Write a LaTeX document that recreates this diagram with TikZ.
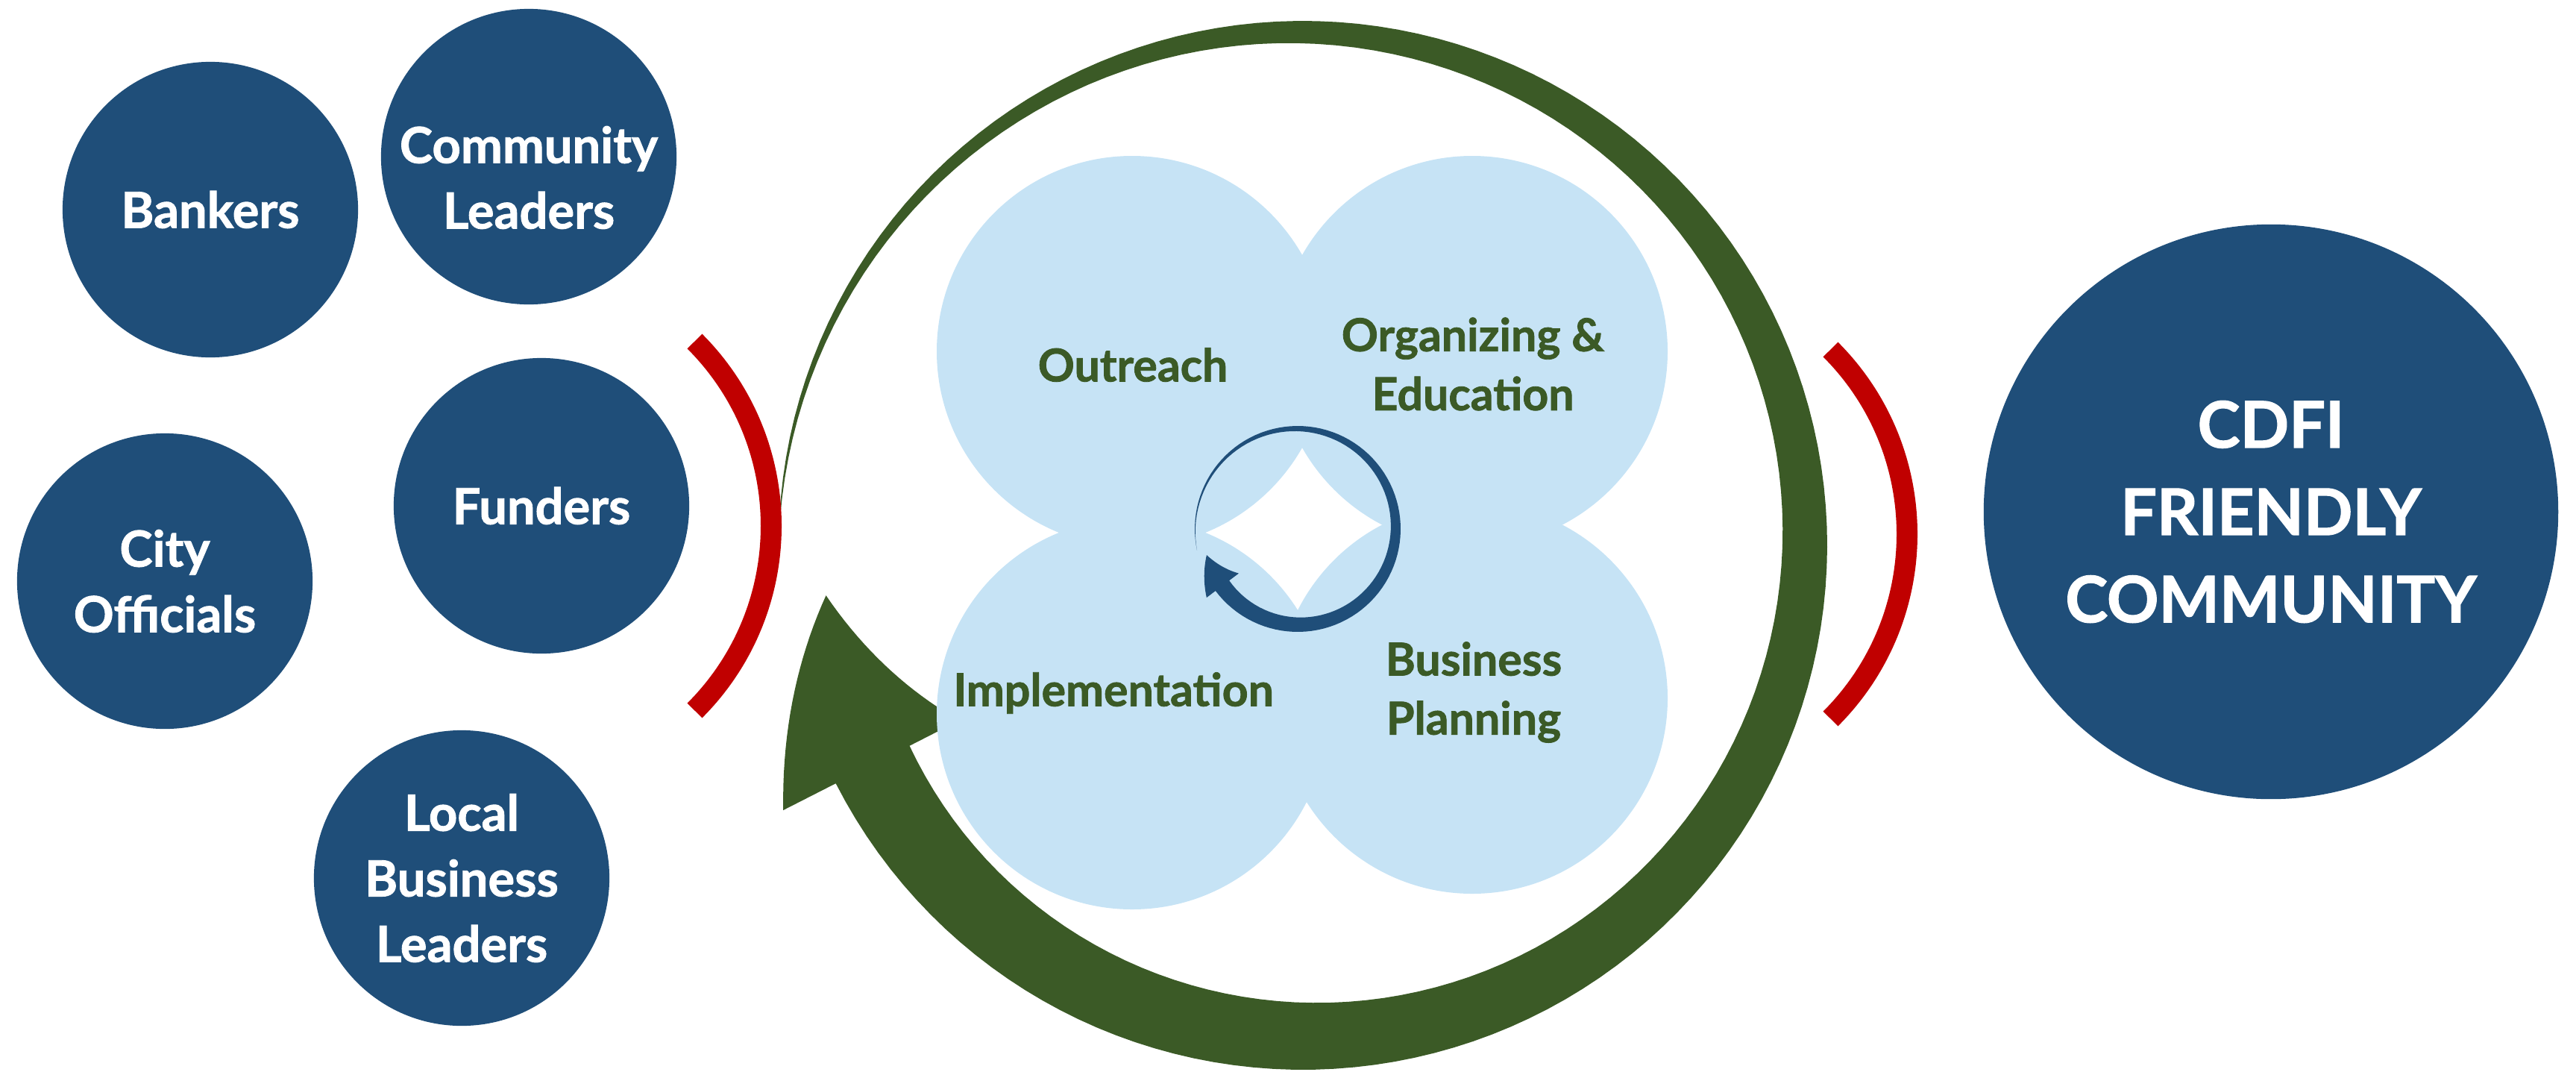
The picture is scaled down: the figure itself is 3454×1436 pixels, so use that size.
\documentclass[tikz,border=0pt]{standalone}
\usepackage{fontspec}
\setmainfont{Lato}[BoldFeatures={FakeBold=1.3}]
\definecolor{navy}{HTML}{1F4E79}
\definecolor{leaf}{HTML}{3B5A26}
\definecolor{sky}{HTML}{C6E3F5}
\definecolor{brick}{HTML}{C00000}

\begin{document}
\begin{tikzpicture}[x=0.01cm, y=-0.01cm]
        \tikzstyle{bub} = [circle, fill=navy, text=white, minimum size=3.96cm, inner sep=0pt, align=center, font=\fontsize{19}{25}\selectfont\bfseries]
        \tikzstyle{bubtxt} = [text=white, align=center, font=\fontsize{19}{25}\selectfont\bfseries]
        \tikzstyle{stage} = [text=leaf, align=center, font=\fontsize{17.3}{22.5}\selectfont\bfseries]
        \tikzstyle{brk} = [draw=brick, line width=0.28cm]

        \useasboundingbox (0, 0) rectangle (3454, 1436);

        \fill[leaf] plot[domain=183:513, samples=150] ({1747+703*cos(\x)}, {731+703*sin(\x)})
            -- plot[domain=513:534, samples=20] ({1747+(782-139*(\x-513)/21)*cos(\x)}, {731+(782-139*(\x-513)/21)*sin(\x)})
            -- plot[domain=534:513, samples=20] ({1747+(517+126*(\x-513)/21)*cos(\x)}, {731+(517+126*(\x-513)/21)*sin(\x)})
            -- plot[domain=513:183, samples=150] ({1747+(703-(\x-180)/3)*cos(\x)}, {731+(703-(\x-180)/3)*sin(\x)})
            -- cycle;

        \fill[sky] (1518, 471) circle (262);
        \fill[sky] (1974, 471) circle (262);
        \fill[sky] (1518, 957) circle (262);
        \fill[sky] (1974, 936) circle (262);

        \fill[navy] plot[domain=168:503, samples=100] ({1740+138*cos(\x)}, {709+138*sin(\x)})
            -- plot[domain=503:524, samples=15] ({1740+(153-26*(\x-503)/21)*cos(\x)}, {709+(153-26*(\x-503)/21)*sin(\x)})
            -- plot[domain=524:503, samples=15] ({1740+(99+28*(\x-503)/21)*cos(\x)}, {709+(99+28*(\x-503)/21)*sin(\x)})
            -- plot[domain=503:168, samples=100] ({1740+(138-23*(\x-168)/335)*cos(\x)}, {709+(138-23*(\x-168)/335)*sin(\x)})
            -- cycle;

        \node[stage] (outreach) at (1519, 489) {Outreach};
        \node[stage] (organizing) at (1975, 488) {Organizing \&\\Education};
        \node[stage] (implementation) at (1493, 929) {Implementation};
        \node[stage] (planning) at (1976, 928) {Business\\Planning};

        \draw[brk] (684, 705) ++(-45:350) arc (-45:45:350);
        \draw[brk] (2207, 716) ++(-45:350) arc (-45:45:350);

        \node[bub] (bankers) at (282, 281) {Bankers};
        \node[bub] (community) at (709, 210) {};
        \node[bubtxt] (communitytxt) at (709, 238) {Community\\Leaders};
        \node[bub] (funders) at (726, 678) {Funders};
        \node[bub] (city) at (221, 779) {City\\Officials};
        \node[bub] (local) at (619, 1177) {Local\\Business\\Leaders};
        \node[bub, minimum size=7.7cm, font=\fontsize{24.5}{33.3}\selectfont\bfseries] (cdfi) at (3045, 686) {CDFI\\FRIENDLY\\COMMUNITY};
    \end{tikzpicture}
\end{document}
